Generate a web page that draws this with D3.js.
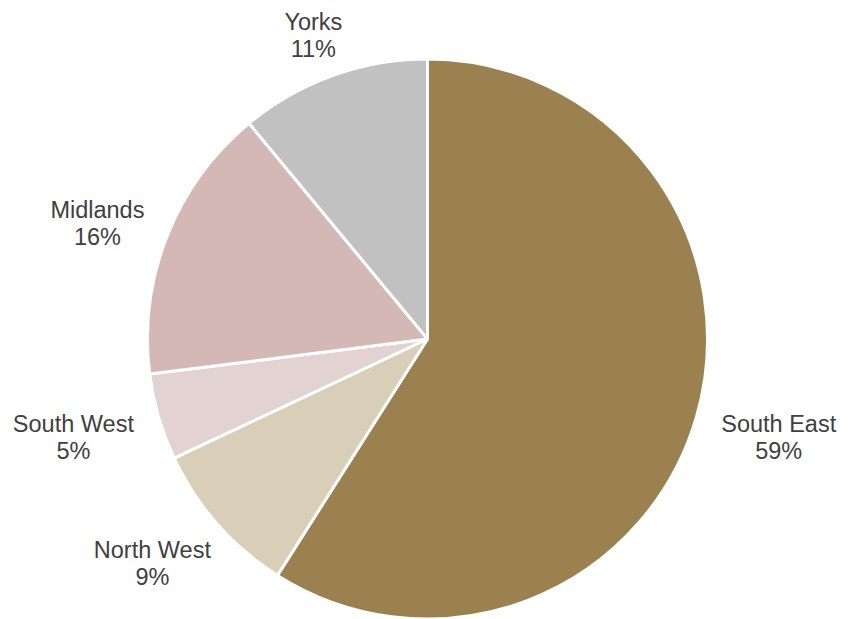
<!DOCTYPE html>
<html>
<head>
<meta charset="utf-8">
<script src="https://cdn.jsdelivr.net/npm/d3@7/dist/d3.min.js"></script>
<style>
  html, body { margin: 0; padding: 0; background: #ffffff; }
  svg { display: block; }
</style>
</head>
<body>
<svg id="chart" width="856" height="619"></svg>
<script>
// Regional split, clockwise from 12 o'clock
const regions = ["South East", "North West", "South West", "Midlands", "Yorks"];
const shares = [59, 9, 5, 16, 11];
const colours = ["#9c8150", "#d9cfb8", "#e2d2d1", "#d3b8b6", "#c1c1c1"];

const cx = 427.5, cy = 339, R = 280;
const fontSize = 23.5, lineGap = 27, labelGap = 28, labelDrop = 6;
const capHeight = 0.716 * fontSize;

const svg = d3.select("#chart");
const g = svg.append("g").attr("transform", `translate(${cx},${cy})`);

const data = regions.map((name, i) => ({ name, value: shares[i], colour: colours[i] }));

const pie = d3.pie().value(d => d.value).sort(null);
const arc = d3.arc().innerRadius(0).outerRadius(R);
const arcs = pie(data);

g.selectAll("path.slice")
  .data(arcs)
  .join("path")
  .attr("class", "slice")
  .attr("d", arc)
  .attr("fill", d => d.data.colour)
  .attr("stroke", "#ffffff")
  .attr("stroke-width", 3)
  .attr("stroke-linejoin", "round");

// Two-line labels placed just outside each slice's mid-angle
const labels = g.selectAll("g.label")
  .data(arcs)
  .join("g")
  .attr("class", "label");

labels.each(function (d) {
  const sel = d3.select(this);
  const text = sel.append("text")
    .attr("text-anchor", "middle")
    .attr("font-family", "Arial, 'Liberation Sans', sans-serif")
    .attr("font-size", fontSize)
    .attr("fill", "#404040");
  text.append("tspan").attr("x", 0).attr("y", 0).text(d.data.name);
  text.append("tspan").attr("x", 0).attr("y", lineGap).text(d.data.value + "%");

  // text block: cap top of first line to baseline of second
  const w = text.node().getBBox().width;
  const h = capHeight + lineGap;
  const a = (d.startAngle + d.endAngle) / 2;
  const s = Math.sin(a), c = Math.cos(a);
  const ax = (R + labelGap) * s, ay = -(R + labelGap) * c;
  const bx = ax + (w / 2) * s;
  const by = ay - (h / 2) * c + labelDrop;
  const midY = (-capHeight + lineGap) / 2;
  sel.attr("transform", `translate(${bx},${by - midY})`);
});
</script>
</body>
</html>
